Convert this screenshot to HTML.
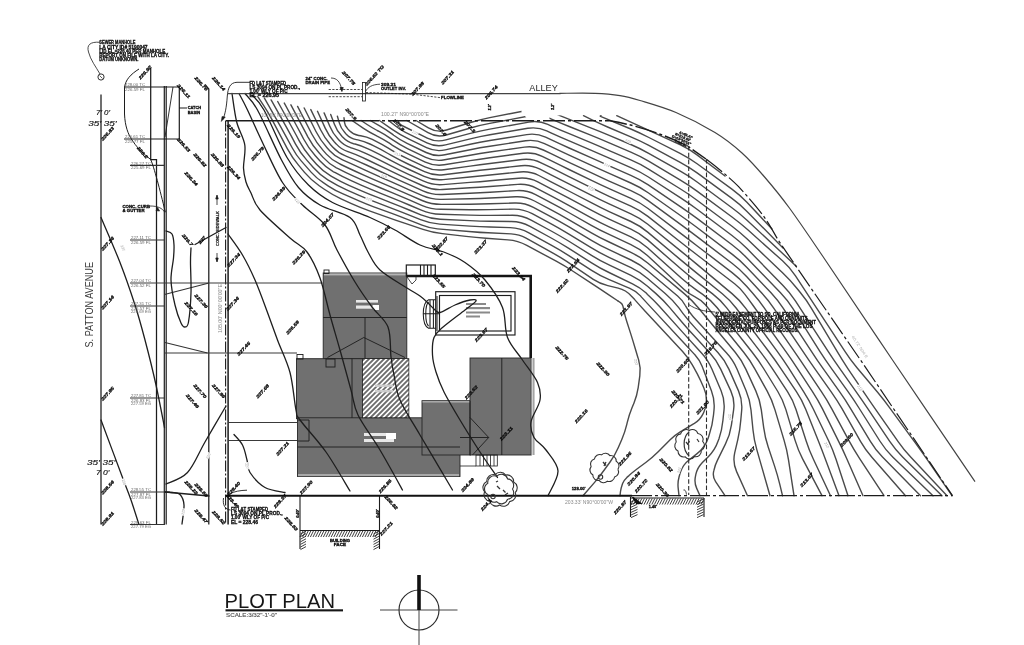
<!DOCTYPE html>
<html><head><meta charset="utf-8"><title>Plot Plan</title>
<style>html,body{margin:0;padding:0;background:#fff}svg{display:block;filter:blur(0.4px)}text{font-family:"Liberation Sans",sans-serif}</style></head>
<body>
<svg width="1024" height="645" viewBox="0 0 1024 645" style="font-family:'Liberation Sans',sans-serif">
<defs><clipPath id="hc"><rect x="362.9" y="359.1" width="45.5" height="58.2"/></clipPath></defs>
<rect width="1024" height="645" fill="#fff"/>
<g fill="#707070" stroke="#262626" stroke-width="0.9">
<rect x="323.2" y="273" width="83.6" height="85.5"/>
<rect x="296.5" y="358.7" width="66" height="60"/>
<rect x="297.5" y="417.8" width="162.5" height="58.7"/>
<rect x="422" y="400.7" width="48.5" height="54.3"/>
<rect x="470" y="358" width="61.2" height="97"/>
</g>
<rect x="324" y="273.4" width="82" height="2" fill="#b5b5b5"/>
<rect x="298" y="474" width="161" height="2.2" fill="#a8a8a8"/>
<rect x="531.6" y="358" width="2.2" height="97" fill="#cfcfcf"/><rect x="533.6" y="358" width="0.7" height="97" fill="#555"/>
<rect x="422.5" y="401" width="47" height="1.6" fill="#a8a8a8"/>
<rect x="362.5" y="358.7" width="46.3" height="59" fill="#6c6c6c" stroke="#262626" stroke-width="0.9"/>
<g clip-path="url(#hc)" stroke="#fff" stroke-width="1.7">
<line x1="292.5" y1="418" x2="352.5" y2="358"/>
<line x1="297.5" y1="418" x2="357.5" y2="358"/>
<line x1="302.5" y1="418" x2="362.5" y2="358"/>
<line x1="307.5" y1="418" x2="367.5" y2="358"/>
<line x1="312.5" y1="418" x2="372.5" y2="358"/>
<line x1="317.5" y1="418" x2="377.5" y2="358"/>
<line x1="322.5" y1="418" x2="382.5" y2="358"/>
<line x1="327.5" y1="418" x2="387.5" y2="358"/>
<line x1="332.5" y1="418" x2="392.5" y2="358"/>
<line x1="337.5" y1="418" x2="397.5" y2="358"/>
<line x1="342.5" y1="418" x2="402.5" y2="358"/>
<line x1="347.5" y1="418" x2="407.5" y2="358"/>
<line x1="352.5" y1="418" x2="412.5" y2="358"/>
<line x1="357.5" y1="418" x2="417.5" y2="358"/>
<line x1="362.5" y1="418" x2="422.5" y2="358"/>
<line x1="367.5" y1="418" x2="427.5" y2="358"/>
<line x1="372.5" y1="418" x2="432.5" y2="358"/>
<line x1="377.5" y1="418" x2="437.5" y2="358"/>
<line x1="382.5" y1="418" x2="442.5" y2="358"/>
<line x1="387.5" y1="418" x2="447.5" y2="358"/>
<line x1="392.5" y1="418" x2="452.5" y2="358"/>
<line x1="397.5" y1="418" x2="457.5" y2="358"/>
<line x1="402.5" y1="418" x2="462.5" y2="358"/>
<line x1="407.5" y1="418" x2="467.5" y2="358"/>
<line x1="412.5" y1="418" x2="472.5" y2="358"/>
<line x1="417.5" y1="418" x2="477.5" y2="358"/>
</g>
<g stroke="#1c1c1c" fill="none" stroke-width="0.9">
<path d="M323.2,317.5 H406.8 M365,317.5 V358 M327.5,357.5 L363.8,337.5 L405,357.5"/>
<path d="M352,358.7 V417.8 M297.5,447 H460 M501.8,358 V455 M460,437.5 H488.7 M470,417.5 L488.7,437.5 L472.5,455 M470,400.7 V455"/>
<rect x="326" y="359" width="9" height="8"/>
<path d="M297.5,420 H309 V441 H297.5"/>
<rect x="297" y="354.5" width="6" height="4.5"/><rect x="324" y="270" width="5" height="3.5"/>
</g>
<g fill="#e8e8e8"><rect x="356" y="300" width="22" height="2.6"/><rect x="356" y="305.5" width="22" height="3.2"/><rect x="373" y="305" width="6" height="5" fill="#fff"/>
<rect x="364" y="433" width="26" height="3"/><rect x="364" y="439" width="30" height="3"/><rect x="386" y="433" width="10" height="6" fill="#fff"/>
<rect x="375" y="384.5" width="18" height="2.4" fill="#ccc"/><rect x="375" y="390" width="18" height="2.4" fill="#ccc"/></g>
<g stroke="#1c1c1c" fill="none">
<path d="M406.5,276 H530.7 V358" stroke-width="2.6" stroke="#141414"/>
<rect x="406.3" y="265" width="29" height="11" stroke-width="1.2"/>
<path d="M420.5,265 V276 M424,265 V276 M427.5,265 V276 M431,265 V276" stroke-width="1.1"/>
<path d="M407,277 L412,284 L416,280 L416,276.5" stroke-width="0.8"/>
<rect x="435.7" y="291.7" width="79.3" height="43.3" stroke-width="1.15"/>
<rect x="439.5" y="295.5" width="71.5" height="35.5" stroke-width="1.15"/>
<path d="M435.7,299.7 H428.6 C421.5,303 421.5,325 428.6,328.3 H435.7 M428.6,302 C424.8,305 424.8,323 428.6,326 M430,300 V328 M433.4,300 V328 M437,296 V331 M423.5,313.8 H439.5" stroke-width="1.05"/>
<rect x="476" y="455" width="21.3" height="11" stroke-width="0.8"/>
<path d="M480,455 V466 M483.5,455 V466 M487,455 V466 M490.5,455 V466 M494,455 V466 M460,466 H476" stroke-width="0.8"/>
</g>
<g fill="#8a8a8a"><rect x="466" y="303" width="20" height="2"/><rect x="466" y="307" width="24" height="2.2"/><rect x="466" y="311.5" width="24" height="2"/><rect x="466" y="315.5" width="14" height="2"/></g>
<g stroke="#1c1c1c" fill="none" stroke-width="1.25">
<path d="M101,94.5 V524.5 M150.7,68 V159.5 H156.5 V524.5 M205,84.3 L208.8,89 V524.5"/>
<path d="M164.3,86 V524.5 M166.2,86 V524.5" stroke-width="1.2"/>
<path d="M225.6,120.5 V524.5" stroke-width="1.1" stroke-dasharray="11,2,2,2"/>
<path d="M228.1,120.5 V524.5" stroke-width="1.5"/>
<path d="M173,87 L165,137" stroke-width="0.9"/>
<path d="M124,87 H179.3 V139 H124 M179,108 H187" stroke-width="1.2"/>
<path d="M130,165.4 H165 M130,240 H165 M130,306 H165 M130,398 H165 M130,492 H170 M130,524.5 H165" stroke-width="1.1" stroke="#333"/>
<path d="M130,283 H322.5 M165,353 H297 M228,422.5 H297 M228,440.5 H297" stroke-width="1.05" stroke="#3a3a3a"/>
<path d="M164.5,294.5 L209,283 M165,342.5 L207.5,353" stroke-width="1.05" stroke="#333"/>
<path d="M139,69 C131,74 125,80 124.5,88 L124.5,114 C125,126 128,134 132,140 C136,146 141,152 150.7,159.5 C154,167 160,190 165.3,212" stroke-width="1"/>
<path d="M100,42.3 C90,41.5 86.5,45 88.5,52 C90.5,60 96,67 100,74" stroke-width="0.8"/><circle cx="101" cy="77" r="3.1" stroke-width="0.9"/><path d="M99.5,75.5 L102.5,78.5" stroke-width="0.7"/>
<path d="M250,82.3 H237 C230,82.5 228,88 227.3,96 C226.5,108 225,114 223,119.5" stroke-width="0.9"/><path d="M221.3,121.5 L225.3,117 L222,116.5 Z" fill="#1c1c1c" stroke-width="0.5"/>
<path d="M223.5,498 C222.5,505 225,509.5 230.5,510 M229.5,494 C234,491.5 240,490.3 247,490.2" stroke-width="0.9"/>
</g>
<g stroke="#1c1c1c" fill="none" stroke-width="0.8"><path d="M217,197 V205 M217,253 V260"/><path d="M217,195 L215.8,199 H218.2 Z M217,262 L215.8,258 H218.2 Z" fill="#1c1c1c"/></g>
<g stroke="#1c1c1c" fill="none" stroke-width="1.1">
<path d="M300,495.7 V549 M379.5,495.7 V549 M300,530.5 H379.5"/>
<path d="M630.5,497 V517 M704,498 V517 M630.5,498 H704"/>
</g>
<g stroke="#2a2a2a" stroke-width="0.9">
<line x1="303.0" y1="531" x2="300.0" y2="537"/>
<line x1="305.6" y1="531" x2="302.6" y2="537"/>
<line x1="308.2" y1="531" x2="305.2" y2="537"/>
<line x1="310.8" y1="531" x2="307.8" y2="537"/>
<line x1="313.4" y1="531" x2="310.4" y2="537"/>
<line x1="316.0" y1="531" x2="313.0" y2="537"/>
<line x1="318.6" y1="531" x2="315.6" y2="537"/>
<line x1="321.2" y1="531" x2="318.2" y2="537"/>
<line x1="323.8" y1="531" x2="320.8" y2="537"/>
<line x1="326.4" y1="531" x2="323.4" y2="537"/>
<line x1="329.0" y1="531" x2="326.0" y2="537"/>
<line x1="331.6" y1="531" x2="328.6" y2="537"/>
<line x1="334.2" y1="531" x2="331.2" y2="537"/>
<line x1="336.8" y1="531" x2="333.8" y2="537"/>
<line x1="339.4" y1="531" x2="336.4" y2="537"/>
<line x1="342.0" y1="531" x2="339.0" y2="537"/>
<line x1="344.6" y1="531" x2="341.6" y2="537"/>
<line x1="347.2" y1="531" x2="344.2" y2="537"/>
<line x1="349.8" y1="531" x2="346.8" y2="537"/>
<line x1="352.4" y1="531" x2="349.4" y2="537"/>
<line x1="355.0" y1="531" x2="352.0" y2="537"/>
<line x1="357.6" y1="531" x2="354.6" y2="537"/>
<line x1="360.2" y1="531" x2="357.2" y2="537"/>
<line x1="362.8" y1="531" x2="359.8" y2="537"/>
<line x1="365.4" y1="531" x2="362.4" y2="537"/>
<line x1="368.0" y1="531" x2="365.0" y2="537"/>
<line x1="370.6" y1="531" x2="367.6" y2="537"/>
<line x1="373.2" y1="531" x2="370.2" y2="537"/>
<line x1="375.8" y1="531" x2="372.8" y2="537"/>
<line x1="378.4" y1="531" x2="375.4" y2="537"/>
<line x1="300.5" y1="534.0" x2="306" y2="531.0"/>
<line x1="373.5" y1="534.0" x2="379" y2="531.0"/>
<line x1="300.5" y1="536.6" x2="306" y2="533.6"/>
<line x1="373.5" y1="536.6" x2="379" y2="533.6"/>
<line x1="300.5" y1="539.2" x2="306" y2="536.2"/>
<line x1="373.5" y1="539.2" x2="379" y2="536.2"/>
<line x1="300.5" y1="541.8" x2="306" y2="538.8"/>
<line x1="373.5" y1="541.8" x2="379" y2="538.8"/>
<line x1="300.5" y1="544.4" x2="306" y2="541.4"/>
<line x1="373.5" y1="544.4" x2="379" y2="541.4"/>
<line x1="300.5" y1="547.0" x2="306" y2="544.0"/>
<line x1="373.5" y1="547.0" x2="379" y2="544.0"/>
<line x1="300.5" y1="549.6" x2="306" y2="546.6"/>
<line x1="373.5" y1="549.6" x2="379" y2="546.6"/>
<line x1="634.0" y1="498.5" x2="631.0" y2="504.5"/>
<line x1="636.6" y1="498.5" x2="633.6" y2="504.5"/>
<line x1="639.2" y1="498.5" x2="636.2" y2="504.5"/>
<line x1="641.8" y1="498.5" x2="638.8" y2="504.5"/>
<line x1="644.4" y1="498.5" x2="641.4" y2="504.5"/>
<line x1="647.0" y1="498.5" x2="644.0" y2="504.5"/>
<line x1="649.6" y1="498.5" x2="646.6" y2="504.5"/>
<line x1="652.2" y1="498.5" x2="649.2" y2="504.5"/>
<line x1="654.8" y1="498.5" x2="651.8" y2="504.5"/>
<line x1="657.4" y1="498.5" x2="654.4" y2="504.5"/>
<line x1="660.0" y1="498.5" x2="657.0" y2="504.5"/>
<line x1="662.6" y1="498.5" x2="659.6" y2="504.5"/>
<line x1="665.2" y1="498.5" x2="662.2" y2="504.5"/>
<line x1="667.8" y1="498.5" x2="664.8" y2="504.5"/>
<line x1="670.4" y1="498.5" x2="667.4" y2="504.5"/>
<line x1="673.0" y1="498.5" x2="670.0" y2="504.5"/>
<line x1="675.6" y1="498.5" x2="672.6" y2="504.5"/>
<line x1="678.2" y1="498.5" x2="675.2" y2="504.5"/>
<line x1="680.8" y1="498.5" x2="677.8" y2="504.5"/>
<line x1="683.4" y1="498.5" x2="680.4" y2="504.5"/>
<line x1="686.0" y1="498.5" x2="683.0" y2="504.5"/>
<line x1="688.6" y1="498.5" x2="685.6" y2="504.5"/>
<line x1="691.2" y1="498.5" x2="688.2" y2="504.5"/>
<line x1="693.8" y1="498.5" x2="690.8" y2="504.5"/>
<line x1="696.4" y1="498.5" x2="693.4" y2="504.5"/>
<line x1="699.0" y1="498.5" x2="696.0" y2="504.5"/>
<line x1="701.6" y1="498.5" x2="698.6" y2="504.5"/>
<line x1="704.2" y1="498.5" x2="701.2" y2="504.5"/>
<line x1="631" y1="502.0" x2="637.5" y2="499.0"/>
<line x1="697" y1="502.0" x2="703.5" y2="499.0"/>
<line x1="631" y1="504.6" x2="637.5" y2="501.6"/>
<line x1="697" y1="504.6" x2="703.5" y2="501.6"/>
<line x1="631" y1="507.2" x2="637.5" y2="504.2"/>
<line x1="697" y1="507.2" x2="703.5" y2="504.2"/>
<line x1="631" y1="509.8" x2="637.5" y2="506.8"/>
<line x1="697" y1="509.8" x2="703.5" y2="506.8"/>
<line x1="631" y1="512.4" x2="637.5" y2="509.4"/>
<line x1="697" y1="512.4" x2="703.5" y2="509.4"/>
<line x1="631" y1="515.0" x2="637.5" y2="512.0"/>
<line x1="697" y1="515.0" x2="703.5" y2="512.0"/>
<line x1="631" y1="517.6" x2="637.5" y2="514.6"/>
<line x1="697" y1="517.6" x2="703.5" y2="514.6"/>
</g>
<g fill="none" stroke="#4a4a4a" stroke-width="1.4" stroke-linecap="round" stroke-linejoin="round">
<path d="M271.1,99.9 L281.5,118.4 Q286.4,127.1 291.2,135.9 L295.4,143.8 Q300.1,152.6 306.8,160.1 L313.3,167.5 Q319.6,174.7 327.8,179.8 L329.6,180.9 Q337.8,186.0 346.6,189.9 L358.5,195.1 Q367.6,199.1 377.0,202.6 L390.6,207.8 Q400.0,211.3 409.3,215.1 L420.5,219.7 Q429.8,223.5 439.7,224.1 L470.0,226.1 Q480.0,226.7 490.0,227.0 L510.2,227.6 Q520.2,227.9 528.9,232.8 L551.2,245.1 Q560.0,249.9 568.4,255.3 L591.6,270.4 Q600.0,275.8 609.2,279.7 L629.8,288.4 Q636.0,291.0 640.5,295.9 L641.5,297.1 Q646.0,302.0 650.5,306.9 L684.2,343.2 Q689.0,348.4 693.8,353.6 L694.9,354.8 Q699.7,360.0 702.2,366.6 L711.4,390.7 Q715.0,400.0 714.0,410.0 L713.5,415.0 Q712.5,425.0 709.3,434.5 L708.2,438.0 Q705.0,447.5 697.1,453.6 L689.0,460.0 Q682.5,465.0 680.2,472.9 L679.1,476.8 Q677.5,482.5 678.2,488.4 L679.0,495.7"/>
<path d="M277.7,101.5 L286.8,118.0 Q291.6,126.7 296.4,135.5 L299.5,141.4 Q304.2,150.2 310.8,157.7 L316.5,164.2 Q322.7,171.1 330.7,175.8 L332.4,176.8 Q340.4,181.5 348.9,185.3 L359.8,190.1 Q368.9,194.1 378.3,197.7 L390.7,202.6 Q400.0,206.2 409.2,210.0 L420.9,214.9 Q430.1,218.7 440.1,219.2 L470.0,220.6 Q480.0,221.1 490.0,221.2 L511.3,221.5 Q521.3,221.6 530.0,226.4 L551.2,238.0 Q560.0,242.8 568.4,248.2 L591.6,262.8 Q600.0,268.2 609.0,272.5 L632.5,283.9 Q640.0,287.5 646.2,293.1 L647.5,294.4 Q653.7,300.0 659.3,306.2 L682.3,331.9 Q689.0,339.4 695.8,346.7 L701.3,352.7 Q708.1,360.0 712.0,369.2 L721.1,390.8 Q725.0,400.0 724.0,410.0 L722.9,420.5 Q722.0,430.0 718.9,439.0 L718.1,441.0 Q715.0,450.0 708.3,456.7 L702.4,462.6 Q697.5,467.5 695.9,474.2 L695.5,476.1 Q694.0,482.5 696.7,488.4 L700.0,495.7"/>
<path d="M284.3,103.1 L292.1,117.5 Q296.9,126.3 301.6,135.1 L303.6,139.0 Q308.3,147.8 314.9,155.3 L319.8,160.8 Q325.7,167.5 333.5,171.8 L335.3,172.7 Q343.0,177.1 351.2,180.7 L361.1,185.1 Q370.3,189.1 379.5,192.8 L390.7,197.4 Q400.0,201.1 409.2,205.0 L421.3,210.1 Q430.5,214.0 440.5,214.3 L470.0,215.1 Q480.0,215.4 490.0,215.4 L512.4,215.3 Q522.4,215.3 531.1,220.1 L551.2,231.0 Q560.0,235.8 568.5,241.0 L591.5,255.3 Q600.0,260.6 609.0,264.9 L631.0,275.4 Q640.0,279.8 647.5,286.3 L655.7,293.4 Q663.2,300.0 669.7,307.6 L682.5,322.7 Q689.0,330.3 695.8,337.6 L709.7,352.7 Q716.5,360.0 720.7,369.1 L730.8,390.9 Q735.0,400.0 733.6,409.9 L731.4,425.1 Q730.0,435.0 725.5,443.9 L717.5,460.1 Q715.0,465.0 713.9,470.4 L713.6,471.6 Q712.5,477.0 715.6,481.6 L725.0,495.7"/>
<path d="M290.9,104.8 L297.4,117.1 Q302.1,125.9 306.7,134.6 L307.7,136.6 Q312.4,145.4 319.0,152.8 L323.1,157.4 Q328.8,163.8 336.4,167.8 L338.1,168.6 Q345.7,172.6 353.5,176.1 L362.4,180.1 Q371.6,184.1 380.8,188.0 L390.8,192.1 Q400.0,196.0 409.2,199.9 L421.7,205.3 Q430.9,209.2 440.9,209.3 L470.0,209.7 Q480.0,209.8 490.0,209.6 L513.5,209.1 Q523.5,208.9 532.2,213.7 L551.2,223.9 Q560.0,228.7 568.5,233.9 L591.5,247.8 Q600.0,253.0 609.0,257.3 L631.0,267.7 Q640.0,272.0 647.6,278.5 L665.2,293.5 Q672.8,300.0 678.9,307.9 L682.9,313.3 Q689.0,321.2 695.8,328.6 L718.1,352.7 Q724.8,360.0 728.9,369.1 L738.5,390.9 Q742.5,400.0 741.7,410.0 L740.8,420.0 Q740.0,430.0 737.8,439.7 L734.7,452.8 Q732.5,462.5 736.6,471.6 L747.5,495.7"/>
<path d="M297.6,106.4 L311.8,134.0 Q316.4,142.9 323.1,150.4 L326.4,154.1 Q331.9,160.2 339.3,163.7 L340.9,164.5 Q348.3,168.1 355.8,171.5 L363.8,175.1 Q372.9,179.2 382.1,183.1 L390.8,186.9 Q400.0,190.9 409.2,194.9 L422.1,200.5 Q431.3,204.4 441.3,204.4 L470.0,204.2 Q480.0,204.2 490.0,203.8 L514.5,203.0 Q524.5,202.6 533.4,207.3 L551.2,216.9 Q560.0,221.6 568.6,226.7 L591.4,240.3 Q600.0,245.4 609.0,249.7 L631.0,260.0 Q640.0,264.3 647.6,270.8 L677.6,296.0 Q682.4,300.0 685.3,305.5 L686.0,306.7 Q689.0,312.1 693.2,316.7 L726.4,352.7 Q733.2,360.0 737.1,369.2 L746.1,390.8 Q750.0,400.0 751.0,410.0 L753.0,430.0 Q754.0,440.0 756.8,449.6 L770.0,495.7"/>
<path d="M304.2,108.0 L316.1,131.8 Q320.5,140.5 327.0,147.7 L329.7,150.7 Q334.9,156.5 342.1,159.7 L343.7,160.4 Q351.0,163.6 358.1,166.9 L365.1,170.1 Q374.2,174.2 383.3,178.3 L390.9,181.7 Q400.0,185.8 409.2,189.8 L422.5,195.7 Q431.7,199.7 441.7,199.4 L470.0,198.8 Q480.0,198.5 490.0,198.0 L515.6,196.8 Q525.6,196.3 534.5,201.0 L551.2,209.9 Q560.0,214.6 568.6,219.6 L591.4,232.8 Q600.0,237.8 609.1,242.0 L630.9,252.3 Q640.0,256.6 647.7,263.0 L684.2,293.6 Q691.9,300.0 698.3,307.7 L735.2,352.3 Q741.6,360.0 745.8,369.1 L755.8,390.9 Q760.0,400.0 761.3,409.9 L763.7,427.6 Q765.0,437.5 768.2,447.0 L774.5,465.9 Q777.5,475.0 779.8,484.3 L782.5,495.7"/>
<path d="M310.8,109.6 L320.7,130.0 Q324.6,138.1 330.6,144.7 L332.9,147.3 Q338.0,152.9 345.0,155.7 L346.6,156.3 Q353.6,159.1 360.5,162.3 L366.4,165.0 Q375.5,169.2 384.6,173.5 L390.9,176.4 Q400.0,180.7 409.1,184.7 L422.9,190.8 Q432.0,194.9 442.0,194.5 L470.0,193.3 Q480.0,192.9 490.0,192.3 L516.7,190.6 Q526.7,190.0 535.6,194.6 L551.2,202.9 Q560.0,207.5 568.7,212.5 L591.3,225.3 Q600.0,230.2 609.1,234.4 L630.9,244.6 Q640.0,248.8 647.4,255.6 L684.4,289.8 Q689.0,294.0 694.6,296.7 L695.8,297.3 Q701.5,300.0 705.4,304.8 L743.7,352.2 Q750.0,360.0 754.8,368.8 L767.2,391.2 Q772.0,400.0 774.9,409.6 L784.1,440.4 Q787.0,450.0 788.5,459.9 L794.0,495.7"/>
<path d="M317.5,111.3 L325.2,128.1 Q328.6,135.6 334.2,141.8 L336.2,143.9 Q341.0,149.3 347.9,151.7 L349.4,152.2 Q356.2,154.6 362.8,157.7 L367.8,160.0 Q376.8,164.3 385.8,168.6 L391.0,171.2 Q400.0,175.6 409.1,179.7 L423.3,186.0 Q432.4,190.1 442.4,189.5 L470.0,187.8 Q480.0,187.2 490.0,186.5 L517.8,184.4 Q527.8,183.6 536.7,188.3 L551.1,195.8 Q560.0,200.5 568.7,205.3 L591.3,217.8 Q600.0,222.6 609.1,226.8 L630.9,236.9 Q640.0,241.1 647.5,247.8 L681.5,278.3 Q689.0,284.9 697.3,290.6 L702.7,294.4 Q711.0,300.0 717.2,307.8 L752.2,352.2 Q758.4,360.0 763.6,368.5 L777.8,391.5 Q783.0,400.0 785.9,409.6 L795.1,440.4 Q798.0,450.0 802.6,458.9 L822.0,495.7"/>
<path d="M324.1,112.9 L329.8,126.2 Q332.7,133.2 337.8,138.8 L339.4,140.5 Q344.1,145.6 350.7,147.7 L352.2,148.1 Q358.9,150.2 365.1,153.1 L369.5,155.2 Q378.1,159.3 386.7,163.7 L391.1,165.9 Q400.0,170.5 409.1,174.6 L423.7,181.2 Q432.8,185.4 442.8,184.6 L470.0,182.4 Q480.0,181.6 490.0,180.7 L518.9,178.2 Q528.9,177.3 537.8,181.9 L551.1,188.8 Q560.0,193.4 568.8,198.2 L591.2,210.2 Q600.0,215.0 609.1,219.2 L630.9,229.2 Q640.0,233.4 647.6,239.9 L681.4,269.3 Q689.0,275.9 696.9,281.9 L712.6,293.9 Q720.6,300.0 726.7,307.9 L760.6,352.1 Q766.7,360.0 772.2,368.4 L787.5,391.6 Q793.0,400.0 796.0,409.5 L806.0,440.5 Q809.0,450.0 813.3,459.0 L830.5,495.7"/>
<path d="M330.7,114.5 L334.4,124.3 Q336.8,130.8 341.5,135.8 L342.6,137.1 Q347.2,142.0 353.6,143.7 L355.1,144.0 Q361.5,145.7 367.5,148.6 L371.4,150.4 Q379.5,154.3 387.4,158.6 L391.2,160.6 Q400.0,165.4 409.1,169.5 L424.1,176.4 Q433.2,180.6 443.1,179.6 L470.0,177.0 Q480.0,176.0 490.0,175.0 L520.0,172.0 Q530.0,171.0 538.9,175.5 L551.1,181.8 Q560.0,186.3 568.8,191.0 L591.2,202.7 Q600.0,207.4 609.1,211.6 L630.9,221.5 Q640.0,225.7 647.7,232.1 L681.3,260.4 Q689.0,266.8 696.8,273.1 L722.3,293.7 Q730.1,300.0 736.1,308.0 L769.1,352.0 Q775.1,360.0 780.7,368.3 L796.4,391.7 Q802.0,400.0 805.7,409.3 L818.3,440.7 Q822.0,450.0 825.5,459.4 L839.0,495.7"/>
<path d="M337.4,116.2 L339.3,122.9 Q340.9,128.4 344.8,132.5 L346.0,133.9 Q350.2,138.4 356.3,139.6 L357.9,139.9 Q364.1,141.2 369.9,144.0 L373.3,145.7 Q380.8,149.3 388.0,153.5 L391.3,155.4 Q400.0,160.3 409.0,164.5 L424.5,171.6 Q433.6,175.9 443.5,174.7 L470.1,171.5 Q480.0,170.3 489.9,169.2 L521.1,165.7 Q531.1,164.6 540.0,169.2 L551.1,174.8 Q560.0,179.3 568.9,183.8 L591.1,195.2 Q600.0,199.8 609.1,203.9 L630.9,213.8 Q640.0,217.9 647.8,224.2 L681.2,251.4 Q689.0,257.7 696.7,264.1 L732.0,293.6 Q739.7,300.0 745.6,308.1 L777.6,351.9 Q783.5,360.0 788.9,368.4 L803.6,391.6 Q809.0,400.0 813.3,409.0 L828.7,441.0 Q833.0,450.0 836.1,459.5 L848.0,495.7"/>
<path d="M344.0,117.8 L344.5,122.3 Q344.9,125.9 347.5,128.6 L349.5,130.8 Q353.3,134.7 358.7,135.5 L360.7,135.8 Q366.8,136.7 372.3,139.4 L375.2,140.9 Q382.1,144.4 388.7,148.3 L391.9,150.3 Q400.0,155.2 408.5,159.2 L424.9,166.8 Q434.0,171.1 443.9,169.7 L470.1,166.1 Q480.0,164.7 489.9,163.5 L522.2,159.5 Q532.2,158.3 541.1,162.8 L551.1,167.7 Q560.0,172.2 568.9,176.7 L591.1,187.7 Q600.0,192.2 609.1,196.3 L630.9,206.1 Q640.0,210.2 647.9,216.4 L681.1,242.5 Q689.0,248.7 696.9,254.8 L734.6,283.8 Q740.0,288.0 744.1,293.4 L745.1,294.6 Q749.2,300.0 753.1,305.5 L786.1,351.9 Q791.9,360.0 797.3,368.4 L812.5,391.6 Q818.0,400.0 822.5,408.9 L838.5,441.1 Q843.0,450.0 847.0,459.2 L863.0,495.7"/>
<path d="M352.0,120.5 L363.5,128.3 Q369.4,132.2 375.7,135.4 L377.1,136.2 Q383.4,139.4 389.4,143.2 L392.5,145.3 Q400.0,150.1 408.0,153.9 L425.3,162.1 Q434.3,166.3 444.2,164.8 L470.1,160.6 Q480.0,159.0 489.9,157.7 L523.3,153.3 Q533.3,152.0 542.2,156.4 L551.0,160.7 Q560.0,165.2 569.0,169.5 L591.0,180.2 Q600.0,184.6 609.1,188.7 L630.9,198.4 Q640.0,202.5 648.0,208.5 L681.0,233.6 Q689.0,239.6 696.9,245.7 L732.1,272.6 Q740.0,278.7 746.6,286.2 L752.1,292.5 Q758.8,300.0 764.4,308.2 L794.6,351.8 Q800.3,360.0 805.8,368.3 L821.4,391.7 Q827.0,400.0 831.8,408.8 L849.2,441.2 Q854.0,450.0 859.5,458.4 L884.0,495.7"/>
<path d="M361.1,120.5 L367.1,124.5 Q372.0,127.7 377.2,130.5 L379.0,131.4 Q384.7,134.4 390.0,138.1 L393.1,140.2 Q400.0,145.0 407.5,148.6 L425.7,157.3 Q434.7,161.6 444.6,159.8 L470.2,155.2 Q480.0,153.4 489.9,152.0 L524.5,147.1 Q534.4,145.6 543.3,150.0 L551.0,153.7 Q560.0,158.1 569.0,162.4 L591.0,172.7 Q600.0,177.0 609.1,181.1 L630.9,190.7 Q640.0,194.7 648.1,200.6 L680.9,224.6 Q689.0,230.5 697.0,236.6 L732.0,263.3 Q740.0,269.4 746.8,276.7 L761.5,292.7 Q768.3,300.0 773.9,308.3 L803.1,351.7 Q808.6,360.0 814.4,368.2 L831.2,391.8 Q837.0,400.0 842.0,408.7 L860.5,441.3 Q865.5,450.0 872.1,457.5 L905.5,495.7"/>
<path d="M370.3,120.5 L379.2,125.6 Q386.0,129.5 392.3,134.1 L393.7,135.2 Q400.0,139.9 407.1,143.3 L426.1,152.5 Q435.1,156.8 444.9,154.8 L470.2,149.7 Q480.0,147.8 489.9,146.3 L525.6,140.8 Q535.4,139.3 544.5,143.6 L551.0,146.7 Q560.0,151.0 569.1,155.2 L590.9,165.2 Q600.0,169.4 609.2,173.4 L630.8,183.0 Q640.0,187.0 648.2,192.8 L680.8,215.7 Q689.0,221.4 697.0,227.5 L732.0,254.1 Q740.0,260.1 746.9,267.4 L771.0,292.7 Q777.9,300.0 783.3,308.4 L811.6,351.6 Q817.0,360.0 822.8,368.1 L839.7,391.9 Q845.5,400.0 850.6,408.6 L870.4,441.4 Q875.5,450.0 882.5,457.1 L920.5,495.7"/>
<path d="M379.4,120.5 L391.8,129.1 Q400.0,134.8 409.0,139.1 L426.5,147.7 Q435.5,152.0 445.2,149.9 L470.2,144.3 Q480.0,142.1 489.9,140.5 L526.7,134.6 Q536.5,133.0 545.6,137.2 L550.9,139.7 Q560.0,144.0 569.1,148.0 L590.9,157.7 Q600.0,161.8 609.2,165.8 L630.8,175.3 Q640.0,179.3 648.3,184.9 L680.7,206.8 Q689.0,212.4 697.0,218.4 L732.0,244.8 Q740.0,250.8 746.9,258.0 L780.5,292.8 Q787.4,300.0 792.8,308.4 L820.0,351.6 Q825.4,360.0 831.2,368.1 L848.2,391.9 Q854.0,400.0 859.3,408.5 L880.2,441.5 Q885.5,450.0 892.7,456.9 L933.0,495.7"/>
<path d="M388.6,120.5 L394.9,125.5 Q400.0,129.7 405.9,132.6 L426.9,142.9 Q435.9,147.3 445.6,144.9 L470.3,138.9 Q480.0,136.5 489.9,134.8 L527.8,128.3 Q537.6,126.7 546.7,130.8 L550.9,132.8 Q560.0,136.9 569.2,140.9 L590.8,150.2 Q600.0,154.2 609.2,158.2 L630.8,167.6 Q640.0,171.6 648.4,177.0 L680.6,197.9 Q689.0,203.3 697.0,209.3 L732.0,235.5 Q740.0,241.5 747.0,248.6 L783.0,285.4 Q790.0,292.5 795.4,300.9 L828.3,351.6 Q833.8,360.0 839.5,368.2 L856.2,391.8 Q862.0,400.0 867.6,408.3 L889.9,441.7 Q895.5,450.0 902.6,457.0 L942.0,495.7"/>
<path d="M397.7,120.5 L399.0,122.7 Q400.0,124.6 401.9,125.5 L427.3,138.1 Q436.2,142.5 445.9,139.9 L470.3,133.4 Q480.0,130.8 489.8,129.1 L528.9,122.1 Q538.7,120.3 547.8,124.4 L550.9,125.8 Q560.0,129.9 569.2,133.7 L590.8,142.7 Q600.0,146.6 609.2,150.6 L630.8,159.9 Q640.0,163.8 648.5,169.1 L680.5,189.0 Q689.0,194.2 697.0,200.2 L732.0,226.2 Q740.0,232.2 747.2,239.1 L782.8,273.1 Q790.0,280.0 796.4,287.7 L800.1,292.3 Q806.5,300.0 811.6,308.6 L837.1,351.4 Q842.2,360.0 847.7,368.3 L863.4,391.7 Q869.0,400.0 874.7,408.2 L898.3,441.8 Q904.0,450.0 910.9,457.3 L947.0,495.7"/>
<path d="M406.8,120.5 L428.0,132.7 Q436.6,137.8 446.2,135.0 L470.4,128.0 Q480.0,125.2 489.8,123.4 L530.1,115.8 Q539.8,114.0 548.9,118.0 L550.9,118.8 Q560.0,122.8 569.2,126.5 L590.7,135.2 Q600.0,139.0 609.2,142.9 L630.8,152.2 Q640.0,156.1 648.6,161.2 L680.4,180.1 Q689.0,185.2 697.0,191.1 L732.0,217.0 Q740.0,222.9 747.5,229.6 L782.5,260.8 Q790.0,267.5 795.5,275.9 L845.1,351.6 Q850.5,360.0 857.0,367.7 L877.6,392.3 Q884.0,400.0 889.9,408.1 L914.6,441.9 Q920.5,450.0 926.2,458.2 L952.0,495.7"/>
<path d="M416.0,120.5 L428.4,127.9 Q437.0,133.0 446.5,130.0 L470.5,122.5 Q480.0,119.6 489.8,117.6 L531.7,109.5 Q540.9,107.7 549.5,111.3 L551.4,112.1 Q560.0,115.7 568.7,119.1 L590.7,127.8 Q600.0,131.4 609.2,135.3 L630.8,144.5 Q640.0,148.4 648.7,153.3 L680.3,171.2 Q689.0,176.1 697.1,182.0 L731.9,207.7 Q740.0,213.6 747.3,220.4 L796.0,266.0"/>
<path d="M583.5,115.7 L592.6,120.2 Q600.0,123.8 607.6,127.0 L630.8,136.8 Q640.0,140.6 648.8,145.4 L680.2,162.3 Q689.0,167.0 697.1,172.9 L731.9,198.4 Q740.0,204.3 747.0,211.4 L783.0,248.0"/>
<path d="M601.0,115.7 L600.5,116.0 Q600.0,116.2 600.5,116.4 L630.8,129.0 Q640.0,132.9 648.9,137.5 L680.1,153.4 Q689.0,158.0 697.1,163.8 L731.9,189.1 Q740.0,195.0 746.9,202.3 L772.0,229.0"/>
<path d="M616.7,115.7 L679.9,144.7 Q689.0,148.9 697.0,154.9 L725.0,176.0"/>
<path d="M257.8,96.6 L263.4,105.1 Q268.0,112.0 271.9,119.4 L287.3,148.7 Q292.0,157.5 298.5,165.1 L304.5,172.4 Q311.0,180.0 319.2,185.7 L324.3,189.3 Q332.5,195.0 341.6,199.1 L350.9,203.4 Q360.0,207.5 369.4,210.9 L385.6,216.6 Q395.0,220.0 404.5,223.2 L423.0,229.3 Q432.5,232.5 442.4,233.6 L466.1,236.4 Q476.0,237.5 486.0,238.2 L508.0,239.9 Q518.0,240.6 526.8,245.4 L556.2,261.2 Q565.0,266.0 573.4,271.5 L591.9,283.7 Q600.0,289.0 608.1,294.4 L618.0,301.0"/>
<path d="M618.0,301.0 L620.5,302.6 Q622.5,304.0 623.0,306.4 L623.9,310.6 Q625.0,316.0 626.7,321.3 L630.6,333.4 Q633.0,341.0 635.3,348.7 L638.7,360.3 Q641.0,368.0 639.8,375.9 L638.2,387.6 Q637.0,395.5 634.0,402.9 L632.0,407.7 Q629.0,415.0 627.2,422.6 L626.8,424.4 Q625.0,432.0 621.9,439.2 L618.2,447.7 Q615.0,455.0 610.4,461.5 L604.6,469.5 Q600.0,476.0 594.8,482.1 L583.0,495.7"/>
<path d="M264.4,98.2 L277.2,120.6 Q281.2,127.6 285.0,134.6 L292.3,148.0 Q296.1,155.1 301.4,161.1 L311.3,172.4 Q316.6,178.4 323.3,182.7 L328.4,186.1 Q335.1,190.5 342.5,193.7 L359.0,200.8 Q366.3,204.0 373.8,206.8 L392.5,213.6 Q400.0,216.4 407.4,219.4 L422.0,225.2 Q429.4,228.2 437.4,228.9 L472.0,231.7 Q480.0,232.4 488.0,232.8 L511.1,233.9 Q519.1,234.3 526.1,238.2 L553.0,253.1 Q560.0,257.0 566.7,261.4 L593.3,279.3 Q600.0,283.7 607.8,285.6 L618.2,288.1 Q626.0,290.0 631.3,296.0 L634.7,299.6 Q640.0,305.6 645.4,311.5 L682.6,351.5 Q688.0,357.4 692.0,364.3 L693.6,367.1 Q697.6,374.0 700.9,381.3 L703.9,388.0 Q706.4,393.5 706.4,399.6 L706.4,400.9 Q706.4,407.0 703.7,412.5 L702.9,414.1 Q700.0,420.0 694.4,423.4 L693.1,424.1 Q687.5,427.5 681.9,430.9 L680.6,431.6 Q675.0,435.0 670.4,439.6 L658.2,451.8 Q652.5,457.5 646.1,462.3 L637.3,468.8 Q633.0,472.0 629.0,475.6 L626.9,477.4 Q624.0,480.0 622.6,483.6 L622.2,484.7 Q621.0,488.0 620.5,491.5 L620.0,495.7"/>
</g>
<g fill="none" stroke="#1e1e1e" stroke-width="1.3" stroke-linecap="round" stroke-linejoin="round">
<path d="M232.0,93.5 C232.8,98.2 234.6,113.4 236.7,122.0 C238.8,130.6 243.7,137.3 244.8,145.0 C245.9,152.7 243.3,161.8 243.5,168.0 C243.7,174.2 244.8,177.8 246.0,182.0 C247.2,186.2 248.7,188.3 251.0,193.0 C253.3,197.7 253.5,202.5 260.0,210.0 C266.5,217.5 282.2,231.0 290.0,238.0 C297.8,245.0 302.0,245.3 307.0,252.0 C312.0,258.7 316.2,267.5 320.0,278.0 C323.8,288.5 326.7,303.0 330.0,315.0 C333.3,327.0 336.5,337.5 340.0,350.0 C343.5,362.5 348.0,379.2 351.0,390.0 C354.0,400.8 353.2,405.0 358.0,415.0 C362.8,425.0 372.6,437.5 380.0,450.0 C387.4,462.5 398.8,483.3 402.5,490.0"/>
<path d="M239.0,93.5 C240.4,96.2 243.6,101.8 247.5,110.0 C251.4,118.2 256.7,130.4 262.5,142.5 C268.3,154.6 275.8,172.1 282.5,182.5 C289.2,192.9 295.4,197.9 302.5,205.0 C309.6,212.1 319.2,217.5 325.0,225.0 C330.8,232.5 332.0,240.5 337.0,250.0 C342.0,259.5 349.2,272.5 355.0,282.0 C360.8,291.5 366.5,299.5 372.0,307.0 C377.5,314.5 384.8,318.7 388.0,327.0 C391.2,335.3 390.0,349.0 391.0,357.0 C392.0,365.0 392.5,367.8 394.0,375.0 C395.5,382.2 395.7,390.0 400.0,400.0 C404.3,410.0 411.2,420.0 420.0,435.0 C428.8,450.0 447.1,480.8 452.5,490.0"/>
<path d="M245.0,93.5 C247.1,96.2 251.4,98.9 257.5,110.0 C263.6,121.1 274.7,147.1 281.5,160.0 C288.3,172.9 292.1,180.0 298.5,187.5 C304.9,195.0 311.4,200.0 320.0,205.0 C328.6,210.0 343.3,212.5 350.0,217.5 C356.7,222.5 357.0,229.2 360.0,235.0 C363.0,240.8 364.7,246.2 368.0,252.0 C371.3,257.8 373.5,264.0 380.0,270.0 C386.5,276.0 400.3,283.7 407.0,288.0 C413.7,292.3 416.5,293.5 420.0,296.0 C423.5,298.5 425.7,300.8 428.0,303.0 C430.3,305.2 432.0,307.4 434.0,309.0 C436.0,310.6 436.5,313.2 440.0,312.5 C443.5,311.8 450.0,307.1 455.0,305.0 C460.0,302.9 466.5,300.7 470.0,300.0 C473.5,299.3 476.8,299.3 476.0,301.0 C475.2,302.7 470.6,305.6 465.0,310.0 C459.4,314.4 447.7,322.9 442.5,327.5 C437.3,332.1 435.7,332.9 434.0,337.5 C432.3,342.1 432.2,349.2 432.5,355.0 C432.8,360.8 434.1,365.8 436.0,372.0 C437.9,378.2 440.0,384.0 444.0,392.0 C448.0,400.0 454.0,410.0 460.0,420.0 C466.0,430.0 473.8,442.4 480.0,452.0 C486.2,461.6 494.6,473.2 497.5,477.5"/>
<path d="M252.0,95.0 C254.0,97.5 258.2,99.6 264.0,110.0 C269.8,120.4 279.6,145.0 287.0,157.5 C294.4,170.0 300.9,177.5 308.5,185.0 C316.1,192.5 322.2,197.1 332.5,202.5 C342.8,207.9 359.6,212.9 370.0,217.5 C380.4,222.1 386.7,225.4 395.0,230.0 C403.3,234.6 411.7,241.2 420.0,245.0 C428.3,248.8 437.5,249.6 445.0,252.5 C452.5,255.4 458.3,257.9 465.0,262.5 C471.7,267.1 478.8,272.5 485.0,280.0 C491.2,287.5 498.8,297.9 502.5,307.5 C506.2,317.1 504.2,328.8 507.5,337.5 C510.8,346.2 517.5,352.5 522.5,360.0 C527.5,367.5 534.6,375.8 537.5,382.5 C540.4,389.2 541.1,393.4 540.0,400.0 C538.9,406.6 532.0,415.8 531.0,422.0 C530.0,428.2 531.5,432.8 534.0,437.5 C536.5,442.2 542.0,444.4 546.0,450.0 C550.0,455.6 557.7,463.4 558.0,471.0 C558.3,478.6 549.7,491.6 548.0,495.7"/>
<path d="M228.0,234.0 C230.4,237.5 238.0,247.3 242.5,255.0 C247.0,262.7 250.8,270.4 255.0,280.0 C259.2,289.6 263.8,302.5 267.5,312.5 C271.2,322.5 273.8,330.0 277.5,340.0 C281.2,350.0 286.9,360.8 290.0,372.5 C293.1,384.2 294.3,402.1 296.0,410.0 C297.7,417.9 295.0,413.0 300.0,420.0 C305.0,427.0 317.7,440.2 326.0,452.0 C334.3,463.8 346.0,484.5 350.0,491.0"/>
<path d="M234.0,434.5 C235.4,436.2 240.3,440.8 242.5,445.0 C244.7,449.2 245.8,455.4 247.0,460.0 C248.2,464.6 247.0,467.9 250.0,472.5 C253.0,477.1 259.2,484.2 265.0,487.5 C270.8,490.8 281.7,491.7 285.0,492.5"/>
<path d="M101.0,217.5 C104.2,225.0 114.3,247.9 120.0,262.5 C125.7,277.1 130.8,292.1 135.0,305.0 C139.2,317.9 141.5,326.7 145.0,340.0 C148.5,353.3 152.8,370.4 156.0,385.0 C159.2,399.6 163.1,420.4 164.5,427.5"/>
<path d="M101.0,420.0 C104.6,429.6 117.5,464.2 122.5,477.5 C127.5,490.8 128.3,492.3 131.0,500.0 C133.7,507.7 137.4,519.8 138.7,523.7"/>
<path d="M166.0,231.0 C167.0,231.5 170.7,231.7 172.0,234.0 C173.3,236.3 173.8,241.0 174.0,245.0 C174.2,249.0 174.0,252.2 173.5,258.0 C173.0,263.8 170.8,272.2 171.0,280.0 C171.2,287.8 173.3,297.8 175.0,305.0 C176.7,312.2 179.3,319.3 181.0,323.0 C182.7,326.7 183.8,327.2 185.0,327.0 C186.2,326.8 187.5,327.8 188.5,322.0 C189.5,316.2 190.7,302.5 191.0,292.5 C191.3,282.5 190.5,269.4 190.5,262.0 C190.5,254.6 190.9,250.3 191.0,248.0"/>
<path d="M226.0,406.0 C222.5,412.0 211.4,430.9 205.0,442.0 C198.6,453.1 194.0,465.5 187.5,472.5 C181.0,479.5 169.6,482.1 166.0,484.0"/>
<path d="M165.0,492.0 C166.2,492.1 169.5,492.1 172.0,492.5 C174.5,492.9 178.0,492.4 180.0,494.5 C182.0,496.6 183.7,500.1 184.0,505.0 C184.3,509.9 182.3,520.8 182.0,524.0"/>
<path d="M195.0,244.5 L226.0,227.5"/>
<path d="M165.0,492.0 L209.0,496.0"/>
</g>
<path d="M521.5,100 H566.5 V114.8 L549.5,116.2 V119.9 H526.5 V117.8 L521.5,112.2 Z" fill="#fff"/>
<g stroke="#1c1c1c" fill="none">
<path d="M228,93.6 H560 L560,93.3 C565.8,93.3 585.0,92.9 595.0,93.3 C605.0,93.7 612.5,94.4 620.0,95.6 C627.5,96.8 630.7,97.7 640.0,100.5 C649.3,103.3 663.5,107.2 676.0,112.5 C688.5,117.8 704.0,125.8 715.0,132.5 C726.0,139.2 733.7,145.5 742.0,153.0 C750.3,160.5 757.1,168.3 765.0,177.5 C772.9,186.7 779.8,194.9 789.4,208.0 C799.0,221.1 805.4,230.7 822.6,256.0 C839.8,281.3 867.1,322.4 892.5,360.0 C917.9,397.6 961.2,461.4 975.0,481.7" stroke-width="1.2" stroke="#444"/>
<path d="M226,120.7 H357" stroke-width="1.6"/>
<path d="M357,120.7 H610 C640,126 665,135 687.5,146 L706,159" stroke-width="1.5" stroke-dasharray="22,3,3,3"/>
<path d="M706.4,159.3 C718,168 730,178 738.6,186.6 C748,197 756,206 762,214 C768,222 773,231 777.7,239.4 L815,294 L860.5,360 L952.5,495.7" stroke-width="1.2" stroke-dasharray="20,3,3,3"/>
<path d="M226,495.8 H632" stroke-width="2.1" stroke="#111"/>
<path d="M632,495.7 H952.5" stroke-width="1.3" stroke-dasharray="20,3,3,3"/>
<path d="M688.7,146 V495 M706.5,159 V495" stroke-width="1.1" stroke="#2e2e2e" stroke-dasharray="4.6,2.2"/>
</g>
<g stroke="#333" fill="none" stroke-width="1.1">
<path d="M515.2,492.6 A6.5,6.5 0 0 1 509.7,501.6 A6.5,6.5 0 0 1 499.6,505.0 A6.5,6.5 0 0 1 489.7,501.1 A6.5,6.5 0 0 1 484.7,491.8 A6.5,6.5 0 0 1 486.8,481.4 A6.5,6.5 0 0 1 495.1,474.8 A6.5,6.5 0 0 1 505.7,475.1 A6.5,6.5 0 0 1 513.6,482.1 A6.5,6.5 0 0 1 515.2,492.6"/>
<path d="M507.6,499.2 A6.5,6.5 0 0 1 496.6,501.7 A6.5,6.5 0 0 1 487.8,494.6 A6.5,6.5 0 0 1 487.8,483.3 A6.5,6.5 0 0 1 496.6,476.3 A6.5,6.5 0 0 1 507.6,478.9 A6.5,6.5 0 0 1 512.5,489.0 A6.5,6.5 0 0 1 507.6,499.2"/>
<circle cx="493" cy="496.5" r="2.2"/><path d="M497,486 l3,3 M503,490 l2.5,2.5 M505,495 l3,-2 M496,482 l2,-1" stroke-width="1.3"/>
<path d="M617.9,469.3 A5.4,5.4 0 0 1 614.6,477.0 A5.4,5.4 0 0 1 607.4,481.2 A5.4,5.4 0 0 1 599.1,480.4 A5.4,5.4 0 0 1 592.8,474.8 A5.4,5.4 0 0 1 591.1,466.7 A5.4,5.4 0 0 1 594.4,459.0 A5.4,5.4 0 0 1 601.6,454.8 A5.4,5.4 0 0 1 609.9,455.6 A5.4,5.4 0 0 1 616.2,461.2 A5.4,5.4 0 0 1 617.9,469.3"/>
<circle cx="600.5" cy="477" r="2.2"/><path d="M603,462 l3,3.5 M606,462 l-2,4" stroke-width="1.3"/>
<path d="M701.3,450.5 A5.7,5.7 0 0 1 694.4,456.6 A5.7,5.7 0 0 1 685.2,456.8 A5.7,5.7 0 0 1 678.0,451.0 A5.7,5.7 0 0 1 676.2,442.0 A5.7,5.7 0 0 1 680.6,433.9 A5.7,5.7 0 0 1 689.2,430.5 A5.7,5.7 0 0 1 697.9,433.5 A5.7,5.7 0 0 1 702.7,441.3 A5.7,5.7 0 0 1 701.3,450.5"/>
<path d="M689,432 C683,437 682,449 689,456 M697,439 l2,3 M686,442 l3,3.5 M689.5,441 l-2,4" stroke-width="1.2"/>
<path d="M683.5,490 C685,489.5 686,491 686.5,494.5" stroke-width="1"/>
</g>
<path d="M632.5,497 L641,503.5 L636.5,503.5 Z" fill="#111" stroke="#111" stroke-width="1.2"/>
<g font-family="'Liberation Sans',sans-serif" font-size="4.3" font-weight="bold" font-style="italic" fill="#0c0c0c" text-anchor="middle" stroke="#0c0c0c" stroke-width="0.3">
<text transform="translate(145.0,72.5) rotate(-48)" y="1.5" textLength="17.1" lengthAdjust="spacingAndGlyphs">226.92</text>
<text transform="translate(183.7,91.2) rotate(48)" y="1.5" textLength="17.1" lengthAdjust="spacingAndGlyphs">226.11</text>
<text transform="translate(201.2,83.7) rotate(48)" y="1.5" textLength="17.1" lengthAdjust="spacingAndGlyphs">226.76</text>
<text transform="translate(218.7,83.7) rotate(48)" y="1.5" textLength="17.1" lengthAdjust="spacingAndGlyphs">226.14</text>
<text transform="translate(107.5,133.7) rotate(-48)" y="1.5" textLength="17.1" lengthAdjust="spacingAndGlyphs">226.83</text>
<text transform="translate(183.7,145.0) rotate(48)" y="1.5" textLength="17.1" lengthAdjust="spacingAndGlyphs">226.53</text>
<text transform="translate(142.5,152.5) rotate(48)" y="1.5" textLength="14.2" lengthAdjust="spacingAndGlyphs">226.2</text>
<text transform="translate(200.0,160.0) rotate(48)" y="1.5" textLength="17.1" lengthAdjust="spacingAndGlyphs">226.82</text>
<text transform="translate(217.5,160.0) rotate(48)" y="1.5" textLength="17.1" lengthAdjust="spacingAndGlyphs">226.88</text>
<text transform="translate(191.2,178.7) rotate(48)" y="1.5" textLength="17.1" lengthAdjust="spacingAndGlyphs">226.34</text>
<text transform="translate(233.7,131.2) rotate(48)" y="1.5" textLength="17.1" lengthAdjust="spacingAndGlyphs">226.19</text>
<text transform="translate(233.7,172.5) rotate(48)" y="1.5" textLength="17.1" lengthAdjust="spacingAndGlyphs">226.34</text>
<text transform="translate(257.5,153.7) rotate(-48)" y="1.5" textLength="17.1" lengthAdjust="spacingAndGlyphs">226.79</text>
<text transform="translate(107.5,243.7) rotate(-48)" y="1.5" textLength="17.1" lengthAdjust="spacingAndGlyphs">227.14</text>
<text transform="translate(187.5,240.0) rotate(48)" y="1.5" textLength="14.2" lengthAdjust="spacingAndGlyphs">226.7</text>
<text transform="translate(202.0,240.0) rotate(-48)" y="1.5" textLength="8.6" lengthAdjust="spacingAndGlyphs">227</text>
<text transform="translate(233.7,260.0) rotate(-48)" y="1.5" textLength="17.1" lengthAdjust="spacingAndGlyphs">227.34</text>
<text transform="translate(278.7,193.7) rotate(-48)" y="1.5" textLength="17.1" lengthAdjust="spacingAndGlyphs">224.89</text>
<text transform="translate(298.7,257.5) rotate(-48)" y="1.5" textLength="17.1" lengthAdjust="spacingAndGlyphs">226.29</text>
<text transform="translate(107.5,302.5) rotate(-48)" y="1.5" textLength="17.1" lengthAdjust="spacingAndGlyphs">227.14</text>
<text transform="translate(191.2,308.7) rotate(48)" y="1.5" textLength="17.1" lengthAdjust="spacingAndGlyphs">227.16</text>
<text transform="translate(201.2,301.2) rotate(48)" y="1.5" textLength="17.1" lengthAdjust="spacingAndGlyphs">227.36</text>
<text transform="translate(232.5,303.7) rotate(-48)" y="1.5" textLength="17.1" lengthAdjust="spacingAndGlyphs">227.34</text>
<text transform="translate(292.5,327.5) rotate(-48)" y="1.5" textLength="17.1" lengthAdjust="spacingAndGlyphs">226.59</text>
<text transform="translate(243.7,348.7) rotate(-48)" y="1.5" textLength="17.1" lengthAdjust="spacingAndGlyphs">227.46</text>
<text transform="translate(107.5,393.7) rotate(-48)" y="1.5" textLength="17.1" lengthAdjust="spacingAndGlyphs">227.95</text>
<text transform="translate(200.0,391.2) rotate(48)" y="1.5" textLength="17.1" lengthAdjust="spacingAndGlyphs">227.70</text>
<text transform="translate(192.5,401.2) rotate(48)" y="1.5" textLength="17.1" lengthAdjust="spacingAndGlyphs">227.46</text>
<text transform="translate(218.7,391.2) rotate(48)" y="1.5" textLength="17.1" lengthAdjust="spacingAndGlyphs">227.86</text>
<text transform="translate(262.5,391.2) rotate(-48)" y="1.5" textLength="17.1" lengthAdjust="spacingAndGlyphs">227.68</text>
<text transform="translate(282.5,448.7) rotate(-48)" y="1.5" textLength="17.1" lengthAdjust="spacingAndGlyphs">227.21</text>
<text transform="translate(107.5,487.5) rotate(-48)" y="1.5" textLength="17.1" lengthAdjust="spacingAndGlyphs">228.54</text>
<text transform="translate(191.2,487.5) rotate(48)" y="1.5" textLength="17.1" lengthAdjust="spacingAndGlyphs">228.23</text>
<text transform="translate(201.2,490.0) rotate(48)" y="1.5" textLength="17.1" lengthAdjust="spacingAndGlyphs">228.50</text>
<text transform="translate(233.7,488.7) rotate(-48)" y="1.5" textLength="17.1" lengthAdjust="spacingAndGlyphs">228.40</text>
<text transform="translate(306.2,487.5) rotate(-48)" y="1.5" textLength="17.1" lengthAdjust="spacingAndGlyphs">227.90</text>
<text transform="translate(107.5,518.7) rotate(-48)" y="1.5" textLength="17.1" lengthAdjust="spacingAndGlyphs">228.91</text>
<text transform="translate(201.2,516.2) rotate(48)" y="1.5" textLength="17.1" lengthAdjust="spacingAndGlyphs">228.47</text>
<text transform="translate(218.7,517.5) rotate(48)" y="1.5" textLength="17.1" lengthAdjust="spacingAndGlyphs">228.52</text>
<text transform="translate(232.5,501.0) rotate(48)" y="1.5" textLength="17.1" lengthAdjust="spacingAndGlyphs">228.46</text>
<text transform="translate(280.0,501.2) rotate(-48)" y="1.5" textLength="17.1" lengthAdjust="spacingAndGlyphs">228.37</text>
<text transform="translate(291.2,523.7) rotate(48)" y="1.5" textLength="17.1" lengthAdjust="spacingAndGlyphs">228.53</text>
<text transform="translate(385.0,486.2) rotate(-48)" y="1.5" textLength="17.1" lengthAdjust="spacingAndGlyphs">226.86</text>
<text transform="translate(391.2,502.5) rotate(48)" y="1.5" textLength="17.1" lengthAdjust="spacingAndGlyphs">226.82</text>
<text transform="translate(386.2,528.7) rotate(-48)" y="1.5" textLength="17.1" lengthAdjust="spacingAndGlyphs">227.21</text>
<text transform="translate(467.5,485.0) rotate(-48)" y="1.5" textLength="17.1" lengthAdjust="spacingAndGlyphs">224.89</text>
<text transform="translate(486.2,505.0) rotate(-48)" y="1.5" textLength="14.2" lengthAdjust="spacingAndGlyphs">224.1</text>
<text transform="translate(581.2,416.2) rotate(-48)" y="1.5" textLength="17.1" lengthAdjust="spacingAndGlyphs">222.16</text>
<text transform="translate(676.0,401.0) rotate(-48)" y="1.5" textLength="17.1" lengthAdjust="spacingAndGlyphs">220.71</text>
<text transform="translate(702.5,407.5) rotate(-48)" y="1.5" textLength="17.1" lengthAdjust="spacingAndGlyphs">221.00</text>
<text transform="translate(625.0,458.7) rotate(-48)" y="1.5" textLength="17.1" lengthAdjust="spacingAndGlyphs">221.96</text>
<text transform="translate(666.2,465.0) rotate(48)" y="1.5" textLength="17.1" lengthAdjust="spacingAndGlyphs">220.52</text>
<text transform="translate(633.7,478.7) rotate(-48)" y="1.5" textLength="17.1" lengthAdjust="spacingAndGlyphs">220.84</text>
<text transform="translate(641.0,486.0) rotate(-48)" y="1.5" textLength="17.1" lengthAdjust="spacingAndGlyphs">220.72</text>
<text transform="translate(662.5,490.0) rotate(48)" y="1.5" textLength="17.1" lengthAdjust="spacingAndGlyphs">220.39</text>
<text transform="translate(620.0,507.5) rotate(-48)" y="1.5" textLength="17.1" lengthAdjust="spacingAndGlyphs">220.87</text>
<text transform="translate(748.7,453.7) rotate(-48)" y="1.5" textLength="17.1" lengthAdjust="spacingAndGlyphs">213.67</text>
<text transform="translate(795.5,428.7) rotate(-48)" y="1.5" textLength="17.1" lengthAdjust="spacingAndGlyphs">215.78</text>
<text transform="translate(846.7,440.0) rotate(-48)" y="1.5" textLength="17.1" lengthAdjust="spacingAndGlyphs">209.60</text>
<text transform="translate(806.7,480.0) rotate(-48)" y="1.5" textLength="17.1" lengthAdjust="spacingAndGlyphs">213.67</text>
<text transform="translate(573.0,265.6) rotate(-48)" y="1.5" textLength="17.1" lengthAdjust="spacingAndGlyphs">222.54</text>
<text transform="translate(562.0,286.0) rotate(-48)" y="1.5" textLength="17.1" lengthAdjust="spacingAndGlyphs">222.62</text>
<text transform="translate(626.0,309.0) rotate(-48)" y="1.5" textLength="17.1" lengthAdjust="spacingAndGlyphs">221.97</text>
<text transform="translate(562.0,353.0) rotate(48)" y="1.5" textLength="17.1" lengthAdjust="spacingAndGlyphs">222.75</text>
<text transform="translate(603.0,369.0) rotate(48)" y="1.5" textLength="17.1" lengthAdjust="spacingAndGlyphs">222.30</text>
<text transform="translate(682.5,365.6) rotate(-48)" y="1.5" textLength="17.1" lengthAdjust="spacingAndGlyphs">220.60</text>
<text transform="translate(710.6,348.4) rotate(-48)" y="1.5" textLength="17.1" lengthAdjust="spacingAndGlyphs">219.76</text>
<text transform="translate(678.0,397.0) rotate(48)" y="1.5" textLength="17.1" lengthAdjust="spacingAndGlyphs">220.71</text>
<text transform="translate(437.5,250.0) rotate(48)" y="1.5" textLength="14.2" lengthAdjust="spacingAndGlyphs">223.1</text>
<text transform="translate(438.7,281.0) rotate(48)" y="1.5" textLength="17.1" lengthAdjust="spacingAndGlyphs">223.55</text>
<text transform="translate(478.7,280.0) rotate(48)" y="1.5" textLength="17.1" lengthAdjust="spacingAndGlyphs">223.70</text>
<text transform="translate(518.7,273.7) rotate(48)" y="1.5" textLength="17.1" lengthAdjust="spacingAndGlyphs">223.34</text>
<text transform="translate(481.2,335.0) rotate(-48)" y="1.5" textLength="17.1" lengthAdjust="spacingAndGlyphs">223.67</text>
<text transform="translate(471.2,392.5) rotate(-48)" y="1.5" textLength="17.1" lengthAdjust="spacingAndGlyphs">223.52</text>
<text transform="translate(506.2,433.7) rotate(-48)" y="1.5" textLength="17.1" lengthAdjust="spacingAndGlyphs">223.11</text>
<text transform="translate(469.7,126.5) rotate(48)" y="1.5" textLength="14.2" lengthAdjust="spacingAndGlyphs">207.3</text>
<text transform="translate(441.0,130.0) rotate(48)" y="1.5" textLength="14.2" lengthAdjust="spacingAndGlyphs">207.6</text>
<text transform="translate(441.5,244.0) rotate(-48)" y="1.5" textLength="17.1" lengthAdjust="spacingAndGlyphs">222.87</text>
<text transform="translate(480.6,247.0) rotate(-48)" y="1.5" textLength="17.1" lengthAdjust="spacingAndGlyphs">223.37</text>
<text transform="translate(327.5,220.0) rotate(-48)" y="1.5" textLength="17.1" lengthAdjust="spacingAndGlyphs">224.07</text>
<text transform="translate(383.7,232.5) rotate(-48)" y="1.5" textLength="17.1" lengthAdjust="spacingAndGlyphs">223.66</text>
<text transform="translate(351.0,114.0) rotate(48)" y="1.5" textLength="14.2" lengthAdjust="spacingAndGlyphs">207.9</text>
<text transform="translate(398.7,125.0) rotate(48)" y="1.5" textLength="14.2" lengthAdjust="spacingAndGlyphs">207.8</text>
<text transform="translate(348.7,78.0) rotate(48)" y="1.5" textLength="17.1" lengthAdjust="spacingAndGlyphs">207.78</text>
<text transform="translate(374.5,75.5) rotate(-48)" y="1.5" textLength="25.7" lengthAdjust="spacingAndGlyphs">226.62 TG</text>
<text transform="translate(417.5,88.7) rotate(-48)" y="1.5" textLength="17.1" lengthAdjust="spacingAndGlyphs">207.98</text>
<text transform="translate(447.5,77.5) rotate(-48)" y="1.5" textLength="17.1" lengthAdjust="spacingAndGlyphs">207.31</text>
<text transform="translate(491.2,92.5) rotate(-48)" y="1.5" textLength="17.1" lengthAdjust="spacingAndGlyphs">206.74</text>
<text transform="translate(297.5,513.7) rotate(-90)" y="1.3" font-size="3.8">0.40'</text>
<text transform="translate(377.5,513.7) rotate(-90)" y="1.3" font-size="3.8">0.40'</text>
<text transform="translate(490.0,107.5) rotate(-90)" y="1.3" font-size="3.8">1.2'</text>
<text transform="translate(552.5,107.0) rotate(-90)" y="1.3" font-size="3.8">1.2'</text>
<text x="578.7" y="490.3" font-size="4.2" font-style="normal">128.00'</text>
<text x="653" y="507.5" font-size="3.8" font-style="normal">1.40'</text>
</g>
<g font-family="'Liberation Sans',sans-serif" font-size="5.0" font-weight="bold" fill="#0c0c0c" stroke="#0c0c0c" stroke-width="0.3"><text x="99.3" y="44.4" textLength="36.0" lengthAdjust="spacingAndGlyphs">SEWER MANHOLE</text><text x="99.3" y="48.6" textLength="48.3" lengthAdjust="spacingAndGlyphs">LA CITY ID# 5190047</text><text x="99.3" y="52.8" textLength="66.0" lengthAdjust="spacingAndGlyphs">LID EL.=226.40 PER MANHOLE</text><text x="99.3" y="57.0" textLength="69.7" lengthAdjust="spacingAndGlyphs">REPORT ON FILE WITH LA CITY.</text><text x="99.3" y="61.2" textLength="39.0" lengthAdjust="spacingAndGlyphs">DATUM UNKNOWN.</text></g>
<g font-family="'Liberation Sans',sans-serif" font-size="5.0" font-weight="bold" fill="#0c0c0c" stroke="#0c0c0c" stroke-width="0.3"><text x="249.5" y="84.6" textLength="36.5" lengthAdjust="spacingAndGlyphs">FD L&amp;T STAMPED</text><text x="249.5" y="88.8" textLength="50.5" lengthAdjust="spacingAndGlyphs">LS 3094 ON PL PROD.,</text><text x="249.5" y="93.1" textLength="38.0" lengthAdjust="spacingAndGlyphs">1.00' WLY OF P/C</text><text x="249.5" y="97.3" textLength="29.5" lengthAdjust="spacingAndGlyphs">EL = 226.95</text></g>
<g font-family="'Liberation Sans',sans-serif" font-size="5.0" font-weight="bold" fill="#0c0c0c" stroke="#0c0c0c" stroke-width="0.3"><text x="231.0" y="510.9" textLength="37.0" lengthAdjust="spacingAndGlyphs">FD L&amp;T STAMPED</text><text x="231.0" y="515.1" textLength="51.5" lengthAdjust="spacingAndGlyphs">LS 3094 ON PL PROD.,</text><text x="231.0" y="519.4" textLength="38.0" lengthAdjust="spacingAndGlyphs">1.00' WLY OF P/C</text><text x="231.0" y="523.6" textLength="27.0" lengthAdjust="spacingAndGlyphs">EL = 228.46</text></g>
<g font-family="'Liberation Sans',sans-serif" font-size="4.4" font-weight="bold" fill="#0c0c0c" stroke="#0c0c0c" stroke-width="0.3"><text x="305.5" y="79.8" textLength="22.0" lengthAdjust="spacingAndGlyphs">24" CONC.</text><text x="305.5" y="84.2" textLength="24.5" lengthAdjust="spacingAndGlyphs">DRAIN PIPE</text></g>
<g font-family="'Liberation Sans',sans-serif" font-size="4.4" font-weight="bold" fill="#0c0c0c" stroke="#0c0c0c" stroke-width="0.3"><text x="381.0" y="85.6" textLength="15.0" lengthAdjust="spacingAndGlyphs">209.21</text><text x="381.0" y="90.0" textLength="25.0" lengthAdjust="spacingAndGlyphs">OUTLET INV.</text></g>
<g font-family="'Liberation Sans',sans-serif" font-size="4.4" font-weight="bold" fill="#0c0c0c" stroke="#0c0c0c" stroke-width="0.3"><text x="441.0" y="98.6" textLength="23.0" lengthAdjust="spacingAndGlyphs">FLOWLINE</text></g>
<g font-family="'Liberation Sans',sans-serif" font-size="4.2" font-weight="bold" fill="#0c0c0c" stroke="#0c0c0c" stroke-width="0.3"><text x="187.7" y="109.3" textLength="13.5" lengthAdjust="spacingAndGlyphs">CATCH</text><text x="187.7" y="113.5" textLength="12.5" lengthAdjust="spacingAndGlyphs">BASIN</text></g>
<g font-family="'Liberation Sans',sans-serif" font-size="4.3" font-weight="bold" fill="#0c0c0c" stroke="#0c0c0c" stroke-width="0.3"><text x="122.5" y="207.6" textLength="27.5" lengthAdjust="spacingAndGlyphs">CONC. CURB</text><text x="122.5" y="212.0" textLength="22.0" lengthAdjust="spacingAndGlyphs">&amp; GUTTER</text></g>
<g font-family="'Liberation Sans',sans-serif" font-size="3.9" font-weight="bold" fill="#0c0c0c" stroke="#0c0c0c" stroke-width="0.3"><text x="330.0" y="542.3" textLength="20.0" lengthAdjust="spacingAndGlyphs">BUILDING</text></g>
<g font-family="'Liberation Sans',sans-serif" font-size="3.9" font-weight="bold" fill="#0c0c0c" stroke="#0c0c0c" stroke-width="0.3"><text x="333.7" y="546.0" textLength="12.5" lengthAdjust="spacingAndGlyphs">FACE</text></g>
<g font-family="'Liberation Sans',sans-serif" font-size="5.0" font-weight="bold" fill="#0c0c0c" stroke="#0c0c0c" stroke-width="0.3"><text x="715.5" y="315.8" textLength="84.0" lengthAdjust="spacingAndGlyphs">5' WIDE EASEMENT TO SO. CALIFORNIA</text><text x="715.5" y="319.9" textLength="92.0" lengthAdjust="spacingAndGlyphs">TELEPHONE CO. FOR POLE AND CONDUITS</text><text x="715.5" y="324.1" textLength="100.5" lengthAdjust="spacingAndGlyphs">&amp; INCIDENTAL PURPOSES AS PER DOCUMENT</text><text x="715.5" y="328.2" textLength="97.0" lengthAdjust="spacingAndGlyphs">RECORDED JUL.29. 1956 P. 49 OF THE LOS</text><text x="715.5" y="332.4" textLength="83.0" lengthAdjust="spacingAndGlyphs">ANGELES COUNTY OFFICIAL RECORDS.</text></g>
<g transform="translate(683,141) rotate(24)" font-family="'Liberation Sans',sans-serif" font-size="3.6" font-weight="bold" fill="#111" stroke="#111" stroke-width="0.25"><text x="-7" y="-5.5">A=89.47'</text><text x="-10" y="-2.2">R=218.00'</text><text x="-12" y="1.1">D=23°30'53"</text><text x="-8" y="4.4">T=45.38'</text></g>
<g stroke="#1c1c1c" fill="none" stroke-width="0.8"><path d="M331,78 C337,78 340.5,82 341.7,90"/><path d="M341.9,91.5 L340.2,87.5 L343.2,87.5 Z" fill="#1c1c1c"/><path d="M328.7,89.5 H362.5 M328.7,96.7 H362.5" stroke-dasharray="2.2,1.4"/><rect x="362.5" y="82.5" width="3" height="18.5"/><path d="M365.5,91.5 C368,87 372,84.5 380,84.2"/><path d="M366,92.5 L412.5,94.2 L440,97.6" stroke-dasharray="2.2,1.4"/><path d="M150,206 C158,206 162,208 165,212.5"/><path d="M157.5,207.5 L159.5,211 L156,210.5Z" fill="#1c1c1c"/><path d="M688.7,304.5 C696,309.5 704,311.5 715,312"/></g>
<g font-family="'Liberation Sans',sans-serif" font-size="7.2" font-style="italic" fill="#111" stroke="#111" stroke-width="0.15"><text x="96" y="115.2" textLength="14" lengthAdjust="spacingAndGlyphs">7' 0'</text><text x="88.2" y="125.8" textLength="28.5" lengthAdjust="spacingAndGlyphs">35'  35'</text><text x="87" y="465.3" textLength="28.5" lengthAdjust="spacingAndGlyphs">35'  35'</text><text x="96" y="474.5" textLength="13.5" lengthAdjust="spacingAndGlyphs">7  0'</text></g>
<text transform="translate(93.4,347.5) rotate(-90)" font-family="'Liberation Sans',sans-serif" font-size="10.2" fill="#3a3a3a" textLength="85.5" lengthAdjust="spacingAndGlyphs">S. PATTON AVENUE</text>
<text x="529.3" y="90.6" font-family="'Liberation Sans',sans-serif" font-size="9.6" fill="#2a2a2a" textLength="28.5" lengthAdjust="spacingAndGlyphs">ALLEY</text>
<text transform="translate(219,246) rotate(-90)" font-family="'Liberation Sans',sans-serif" font-size="4.3" font-weight="bold" fill="#111" stroke="#111" stroke-width="0.2" textLength="35" lengthAdjust="spacingAndGlyphs">CONC. SIDEWALK</text>
<g font-family="'Liberation Sans',sans-serif" font-size="5" fill="#8a8a8a"><text x="381" y="116.3" textLength="48" lengthAdjust="spacingAndGlyphs">100.27' N90°00'00"E</text><text x="261" y="117.2" textLength="41" lengthAdjust="spacingAndGlyphs">102.50' N90°00'00"E</text><text x="565" y="504.3" textLength="48" lengthAdjust="spacingAndGlyphs">203.33' N90°00'00"W</text><text transform="translate(222.2,333) rotate(-90)" textLength="49" lengthAdjust="spacingAndGlyphs">105.00' N00°00'00"E</text><text transform="translate(851.5,337) rotate(56)" font-size="4" textLength="26" lengthAdjust="spacingAndGlyphs" fill="#aaa">40.72' N34 E</text></g>
<g font-family="'Liberation Sans',sans-serif" font-size="3.5" fill="#666"><text x="125" y="86.1" textLength="20" lengthAdjust="spacingAndGlyphs">228.00 TC</text><text x="125" y="90.6" textLength="20" lengthAdjust="spacingAndGlyphs">226.59 FL</text><text x="125" y="138.1" textLength="20" lengthAdjust="spacingAndGlyphs">226.61 TC</text><text x="125" y="142.6" textLength="20" lengthAdjust="spacingAndGlyphs">225.77 FL</text><text x="131" y="164.5" textLength="20" lengthAdjust="spacingAndGlyphs">226.27 TC</text><text x="131" y="169.0" textLength="20" lengthAdjust="spacingAndGlyphs">225.69 FL</text><text x="131" y="239.1" textLength="20" lengthAdjust="spacingAndGlyphs">227.11 TC</text><text x="131" y="243.6" textLength="20" lengthAdjust="spacingAndGlyphs">226.59 FL</text><text x="131" y="282.1" textLength="20" lengthAdjust="spacingAndGlyphs">227.04 TC</text><text x="131" y="286.6" textLength="20" lengthAdjust="spacingAndGlyphs">226.52 FL</text><text x="131" y="305.1" textLength="20" lengthAdjust="spacingAndGlyphs">227.31 TC</text><text x="131" y="309.6" textLength="20" lengthAdjust="spacingAndGlyphs">226.57 FL</text><text x="131" y="313.4" textLength="20" lengthAdjust="spacingAndGlyphs">226.69 EG</text><text x="131" y="397.1" textLength="20" lengthAdjust="spacingAndGlyphs">227.81 TC</text><text x="131" y="401.6" textLength="20" lengthAdjust="spacingAndGlyphs">226.83 FL</text><text x="131" y="405.4" textLength="20" lengthAdjust="spacingAndGlyphs">227.59 EG</text><text x="131" y="491.1" textLength="20" lengthAdjust="spacingAndGlyphs">228.55 TC</text><text x="131" y="495.6" textLength="20" lengthAdjust="spacingAndGlyphs">227.87 FL</text><text x="131" y="499.4" textLength="20" lengthAdjust="spacingAndGlyphs">227.83 EG</text><text x="131" y="523.6" textLength="20" lengthAdjust="spacingAndGlyphs">228.63 FL</text><text x="131" y="528.1" textLength="20" lengthAdjust="spacingAndGlyphs">227.79 EG</text></g>
<g font-family="'Liberation Sans',sans-serif" font-size="3.6" fill="#9a9a9a" text-anchor="middle"><g transform="translate(297.5,201.0) rotate(45)"><rect x="-3.6" y="-1.8" width="7.2" height="3.6" fill="#fff"/><text y="1.3">222</text></g><g transform="translate(369.0,199.0) rotate(20)"><rect x="-3.6" y="-1.8" width="7.2" height="3.6" fill="#fff"/><text y="1.3">220</text></g><g transform="translate(384.0,176.0) rotate(20)"><rect x="-3.6" y="-1.8" width="7.2" height="3.6" fill="#fff"/><text y="1.3">218</text></g><g transform="translate(397.5,154.0) rotate(20)"><rect x="-3.6" y="-1.8" width="7.2" height="3.6" fill="#fff"/><text y="1.3">213</text></g><g transform="translate(415.0,132.5) rotate(25)"><rect x="-3.6" y="-1.8" width="7.2" height="3.6" fill="#fff"/><text y="1.3">210</text></g><g transform="translate(591.0,189.0) rotate(25)"><rect x="-3.6" y="-1.8" width="7.2" height="3.6" fill="#fff"/><text y="1.3">218</text></g><g transform="translate(607.0,165.0) rotate(25)"><rect x="-3.6" y="-1.8" width="7.2" height="3.6" fill="#fff"/><text y="1.3">214</text></g><g transform="translate(628.0,141.0) rotate(25)"><rect x="-3.6" y="-1.8" width="7.2" height="3.6" fill="#fff"/><text y="1.3">210</text></g><g transform="translate(636.0,362.0) rotate(80)"><rect x="-3.6" y="-1.8" width="7.2" height="3.6" fill="#fff"/><text y="1.3">222</text></g><g transform="translate(730.0,417.0) rotate(80)"><rect x="-3.6" y="-1.8" width="7.2" height="3.6" fill="#fff"/><text y="1.3">220</text></g><g transform="translate(860.0,388.0) rotate(60)"><rect x="-3.6" y="-1.8" width="7.2" height="3.6" fill="#fff"/><text y="1.3">210</text></g><g transform="translate(827.0,445.0) rotate(60)"><rect x="-3.6" y="-1.8" width="7.2" height="3.6" fill="#fff"/><text y="1.3">212</text></g><g transform="translate(208.0,456.0) rotate(-60)"><rect x="-3.6" y="-1.8" width="7.2" height="3.6" fill="#fff"/><text y="1.3">228</text></g><g transform="translate(124.0,482.0) rotate(70)"><rect x="-3.6" y="-1.8" width="7.2" height="3.6" fill="#fff"/><text y="1.3">228</text></g><g transform="translate(183.0,512.0) rotate(-85)"><rect x="-3.6" y="-1.8" width="7.2" height="3.6" fill="#fff"/><text y="1.3">229</text></g><g transform="translate(247.0,466.0) rotate(75)"><rect x="-3.6" y="-1.8" width="7.2" height="3.6" fill="#fff"/><text y="1.3">227</text></g><g transform="translate(123.0,248.0) rotate(65)"><rect x="-3.6" y="-1.8" width="7.2" height="3.6" fill="#fff"/><text y="1.3">227</text></g><g transform="translate(679.0,470.0) rotate(-70)"><rect x="-3.6" y="-1.8" width="7.2" height="3.6" fill="#fff"/><text y="1.3">221</text></g></g>
<g stroke="#1c1c1c" fill="none"><circle cx="419" cy="610" r="20" stroke-width="1.15" stroke="#2a2a2a"/><path d="M380,610 H457.5 M419,610 V645" stroke-width="1" stroke="#444"/><path d="M419,575 V610" stroke-width="3.6" stroke="#111"/></g>
<text x="224.5" y="607.6" font-size="19.6" fill="#161616" textLength="110.5" lengthAdjust="spacingAndGlyphs">PLOT PLAN</text>
<rect x="225.5" y="609.3" width="117.5" height="2.1" fill="#161616"/>
<text x="226" y="617.3" font-size="5.3" fill="#555" stroke="#555" stroke-width="0.15" textLength="51" lengthAdjust="spacingAndGlyphs">SCALE:3/32"-1'-0"</text>
</svg></body></html>
